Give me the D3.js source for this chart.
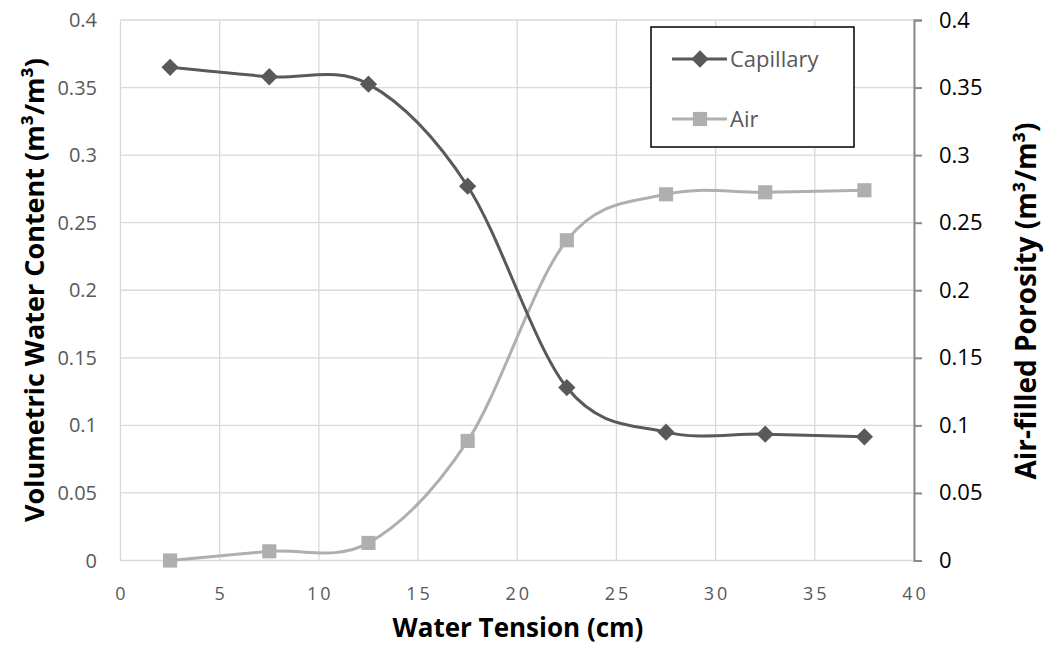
<!DOCTYPE html>
<html>
<head>
<meta charset="utf-8">
<script src="https://cdn.jsdelivr.net/npm/d3@7"></script>
<style>
  body { margin: 0; background: #fff; }
  svg { display: block; font-family: "Open Sans", "Noto Sans", sans-serif; }
</style>
</head>
<body>
<svg width="1047" height="646"></svg>
<script>
const width = 1047
const height = 646

// data
const tension = [2.5, 7.5, 12.5, 17.5, 22.5, 27.5, 32.5, 37.5]
const capillary = [0.365, 0.358, 0.3525, 0.277, 0.128, 0.095, 0.0935, 0.0915]
const air = [0.0, 0.0068, 0.013, 0.0885, 0.237, 0.271, 0.2725, 0.274]
const xTicks = [0, 5, 10, 15, 20, 25, 30, 35, 40]
const yTicks = [0, 0.05, 0.1, 0.15, 0.2, 0.25, 0.3, 0.35, 0.4]

let plot = {left: 120.5, right: 914, top: 20, bottom: 560.5}

let svg = d3.select("svg")

const x = d3.scaleLinear().domain([0, 40]).range([plot.left, plot.right])
const yLeft = d3.scaleLinear().domain([0, 0.4]).range([plot.bottom, plot.top])
const yRight = d3.scaleLinear().domain([0, 0.4]).range([plot.bottom, plot.top])

// gridlines
let grid = svg.append("g")
grid.selectAll(".hgrid")
  .data(yTicks)
  .enter().append("line")
  .attr("x1", plot.left).attr("x2", plot.right)
  .attr("y1", d => yLeft(d)).attr("y2", d => yLeft(d))
  .attr("stroke", "#d9d9d9").attr("stroke-width", 1.3)
grid.selectAll(".vgrid")
  .data(xTicks)
  .enter().append("line")
  .attr("x1", d => x(d)).attr("x2", d => x(d))
  .attr("y1", plot.top).attr("y2", plot.bottom)
  .attr("stroke", "#d9d9d9").attr("stroke-width", 1.3)

// left axis labels
svg.append("g").selectAll("text")
  .data(yTicks)
  .enter().append("text")
  .attr("x", 97)
  .attr("y", d => yLeft(d) + 7)
  .attr("text-anchor", "end")
  .attr("font-size", "20px")
  .attr("fill", "#595959")
  .text(d => d3.format("")(d))

// bottom axis labels
svg.append("g").selectAll("text")
  .data(xTicks)
  .enter().append("text")
  .attr("x", d => x(d) + 1.5)
  .attr("y", 600)
  .attr("text-anchor", "middle")
  .attr("font-size", "18px")
  .attr("letter-spacing", "3px")
  .attr("fill", "#595959")
  .text(d => d)

// right axis
let rightAxis = svg.append("g")
  .attr("transform", `translate(${plot.right},0)`)
  .call(d3.axisRight(yRight).tickValues(yTicks).tickSize(8).tickPadding(17).tickFormat(d3.format("")))
rightAxis.select(".domain").attr("stroke", "#898989").attr("stroke-width", 2)
rightAxis.selectAll(".tick line").attr("stroke", "#898989").attr("stroke-width", 2)
rightAxis.selectAll(".tick text")
  .attr("font-size", "22px")
  .attr("font-family", "'Open Sans', sans-serif")
  .attr("fill", "#000")

// axis titles
svg.append("text")
  .attr("x", 518)
  .attr("y", 637)
  .attr("text-anchor", "middle")
  .attr("font-size", "26px")
  .attr("font-weight", "bold")
  .text("Water Tension (cm)")

svg.append("text")
  .attr("transform", "translate(44, 290) rotate(-90)")
  .attr("text-anchor", "middle")
  .attr("font-size", "27px")
  .attr("font-weight", "bold")
  .text("Volumetric Water Content (m³/m³)")

svg.append("text")
  .attr("transform", "translate(1036, 301) rotate(-90)")
  .attr("text-anchor", "middle")
  .attr("font-size", "28px")
  .attr("font-weight", "bold")
  .text("Air-filled Porosity (m³/m³)")

// series
const capColor = "#595959"
const airColor = "#afafaf"
const diamond = d3.symbol().type(d3.symbolDiamond2).size(190)
const square = d3.symbol().type(d3.symbolSquare).size(200)

function drawSeries(values, scale, color, sym) {
  let pts = tension.map((t, i) => [x(t), scale(values[i])])
  let line = d3.line().curve(d3.curveCardinal.tension(0))
  svg.append("path")
    .attr("d", line(pts))
    .attr("fill", "none")
    .attr("stroke", color)
    .attr("stroke-width", 3)
  svg.append("g").selectAll("path")
    .data(pts)
    .enter().append("path")
    .attr("transform", d => `translate(${d[0]},${d[1]})`)
    .attr("d", sym)
    .attr("fill", color)
}

drawSeries(air, yRight, airColor, square)
drawSeries(capillary, yLeft, capColor, diamond)

// legend
let legend = svg.append("g")
legend.append("rect")
  .attr("x", 651).attr("y", 27)
  .attr("width", 203).attr("height", 120)
  .attr("fill", "white")
  .attr("stroke", "black")
  .attr("stroke-width", 1.5)

const legendItems = [
  {name: "Capillary", color: capColor, sym: diamond, y: 59},
  {name: "Air", color: airColor, sym: square, y: 119}
]
legendItems.forEach(item => {
  legend.append("line")
    .attr("x1", 672).attr("x2", 727)
    .attr("y1", item.y).attr("y2", item.y)
    .attr("stroke", item.color).attr("stroke-width", 3)
  legend.append("path")
    .attr("transform", `translate(700,${item.y})`)
    .attr("d", item.sym)
    .attr("fill", item.color)
  legend.append("text")
    .attr("x", 730)
    .attr("y", item.y + 8)
    .attr("font-size", "22px")
    .attr("fill", "#595959")
    .text(item.name)
})
</script>
</body>
</html>
